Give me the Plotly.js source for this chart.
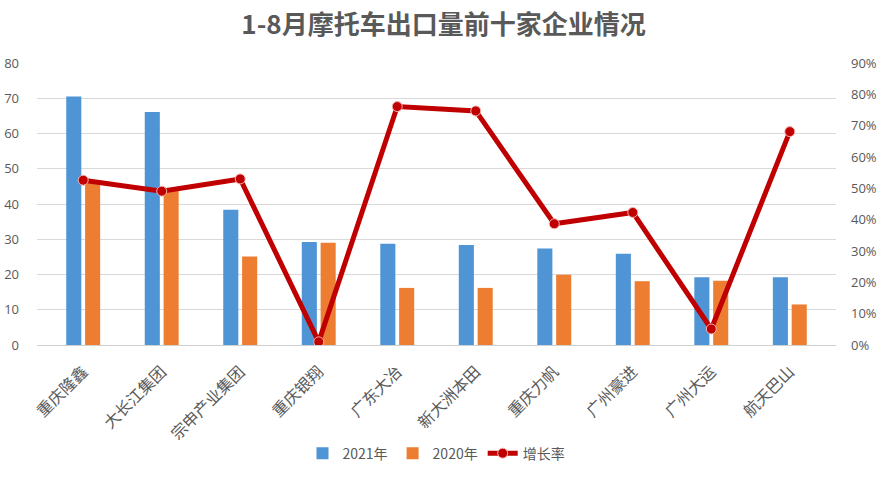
<!DOCTYPE html>
<html>
<head>
<meta charset="utf-8">
<script src="https://cdn.plot.ly/plotly-3.0.1.min.js"></script>
<style>
  html, body { margin: 0; padding: 0; background: #fff; }
  #chart { width: 887px; height: 482px; }
</style>
</head>
<body>
<div id="chart"></div>
<script>
var companies = ['重庆隆鑫', '大长江集团', '宗申产业集团', '重庆银翔', '广东大冶', '新大洲本田', '重庆力帆', '广州豪进', '广州大运', '航天巴山'];
var sales2021 = [70.5, 66.1, 38.4, 29.2, 28.7, 28.4, 27.4, 25.9, 19.2, 19.2];
var sales2020 = [46.0, 43.8, 25.1, 29.0, 16.2, 16.2, 19.9, 18.1, 18.2, 11.5];
var growth = [0.526, 0.491, 0.530, 0.010, 0.761, 0.747, 0.387, 0.423, 0.051, 0.681];

var textColor = '#595959';
var cnFont = '"Noto Sans CJK SC", "Noto Sans", sans-serif';

var trace1 = {
  x: companies,
  y: sales2021,
  type: 'bar',
  name: '2021年',
  marker: { color: '#4f94d4' }
};

var trace2 = {
  x: companies,
  y: sales2020,
  type: 'bar',
  name: '2020年',
  marker: { color: '#ed7d31' }
};

var trace3 = {
  x: companies,
  y: growth,
  type: 'scatter',
  mode: 'lines+markers',
  name: '增长率',
  yaxis: 'y2',
  line: { color: '#c00000', width: 5 },
  marker: { color: '#c00000', size: 10, line: { color: '#f4b6b6', width: 1 } }
};

var layout = {
  width: 887,
  height: 482,
  margin: { l: 37, r: 51, t: 63, b: 131 },
  paper_bgcolor: '#ffffff',
  plot_bgcolor: '#ffffff',
  title: {
    text: '<b>1-8月摩托车出口量前十家企业情况</b>',
    font: { family: cnFont, size: 26, color: textColor },
    x: 0.5,
    xanchor: 'center',
    y: 0.948,
    yanchor: 'middle'
  },
  barmode: 'group',
  bargap: 0.52,
  bargroupgap: 0.2,
  xaxis: {
    automargin: false,
    tickangle: -45,
    tickfont: { family: cnFont, size: 16, color: textColor },
    showgrid: false,
    showline: true,
    linecolor: '#d0d0d0',
    ticks: '',
    ticklabelstandoff: 10
  },
  yaxis: {
    automargin: false,
    range: [0, 80],
    dtick: 10,
    tickfont: { family: '"Open Sans", sans-serif', size: 13, color: textColor },
    gridcolor: '#d9d9d9',
    zeroline: false,
    ticks: '',
    ticklabelstandoff: 17
  },
  yaxis2: {
    automargin: false,
    overlaying: 'y',
    side: 'right',
    range: [0, 0.9],
    dtick: 0.1,
    tickformat: '.0%',
    tickfont: { family: '"Open Sans", sans-serif', size: 13, color: textColor },
    showgrid: false,
    zeroline: false,
    ticklabelstandoff: 14
  },
  legend: {
    orientation: 'h',
    x: 0.5,
    xanchor: 'center',
    y: -0.385,
    yanchor: 'middle',
    font: { family: cnFont, size: 14, color: textColor },
    traceorder: 'normal'
  },
  showlegend: true
};

Plotly.newPlot('chart', [trace1, trace2, trace3], layout, { displayModeBar: false, staticPlot: true });
</script>
</body>
</html>
